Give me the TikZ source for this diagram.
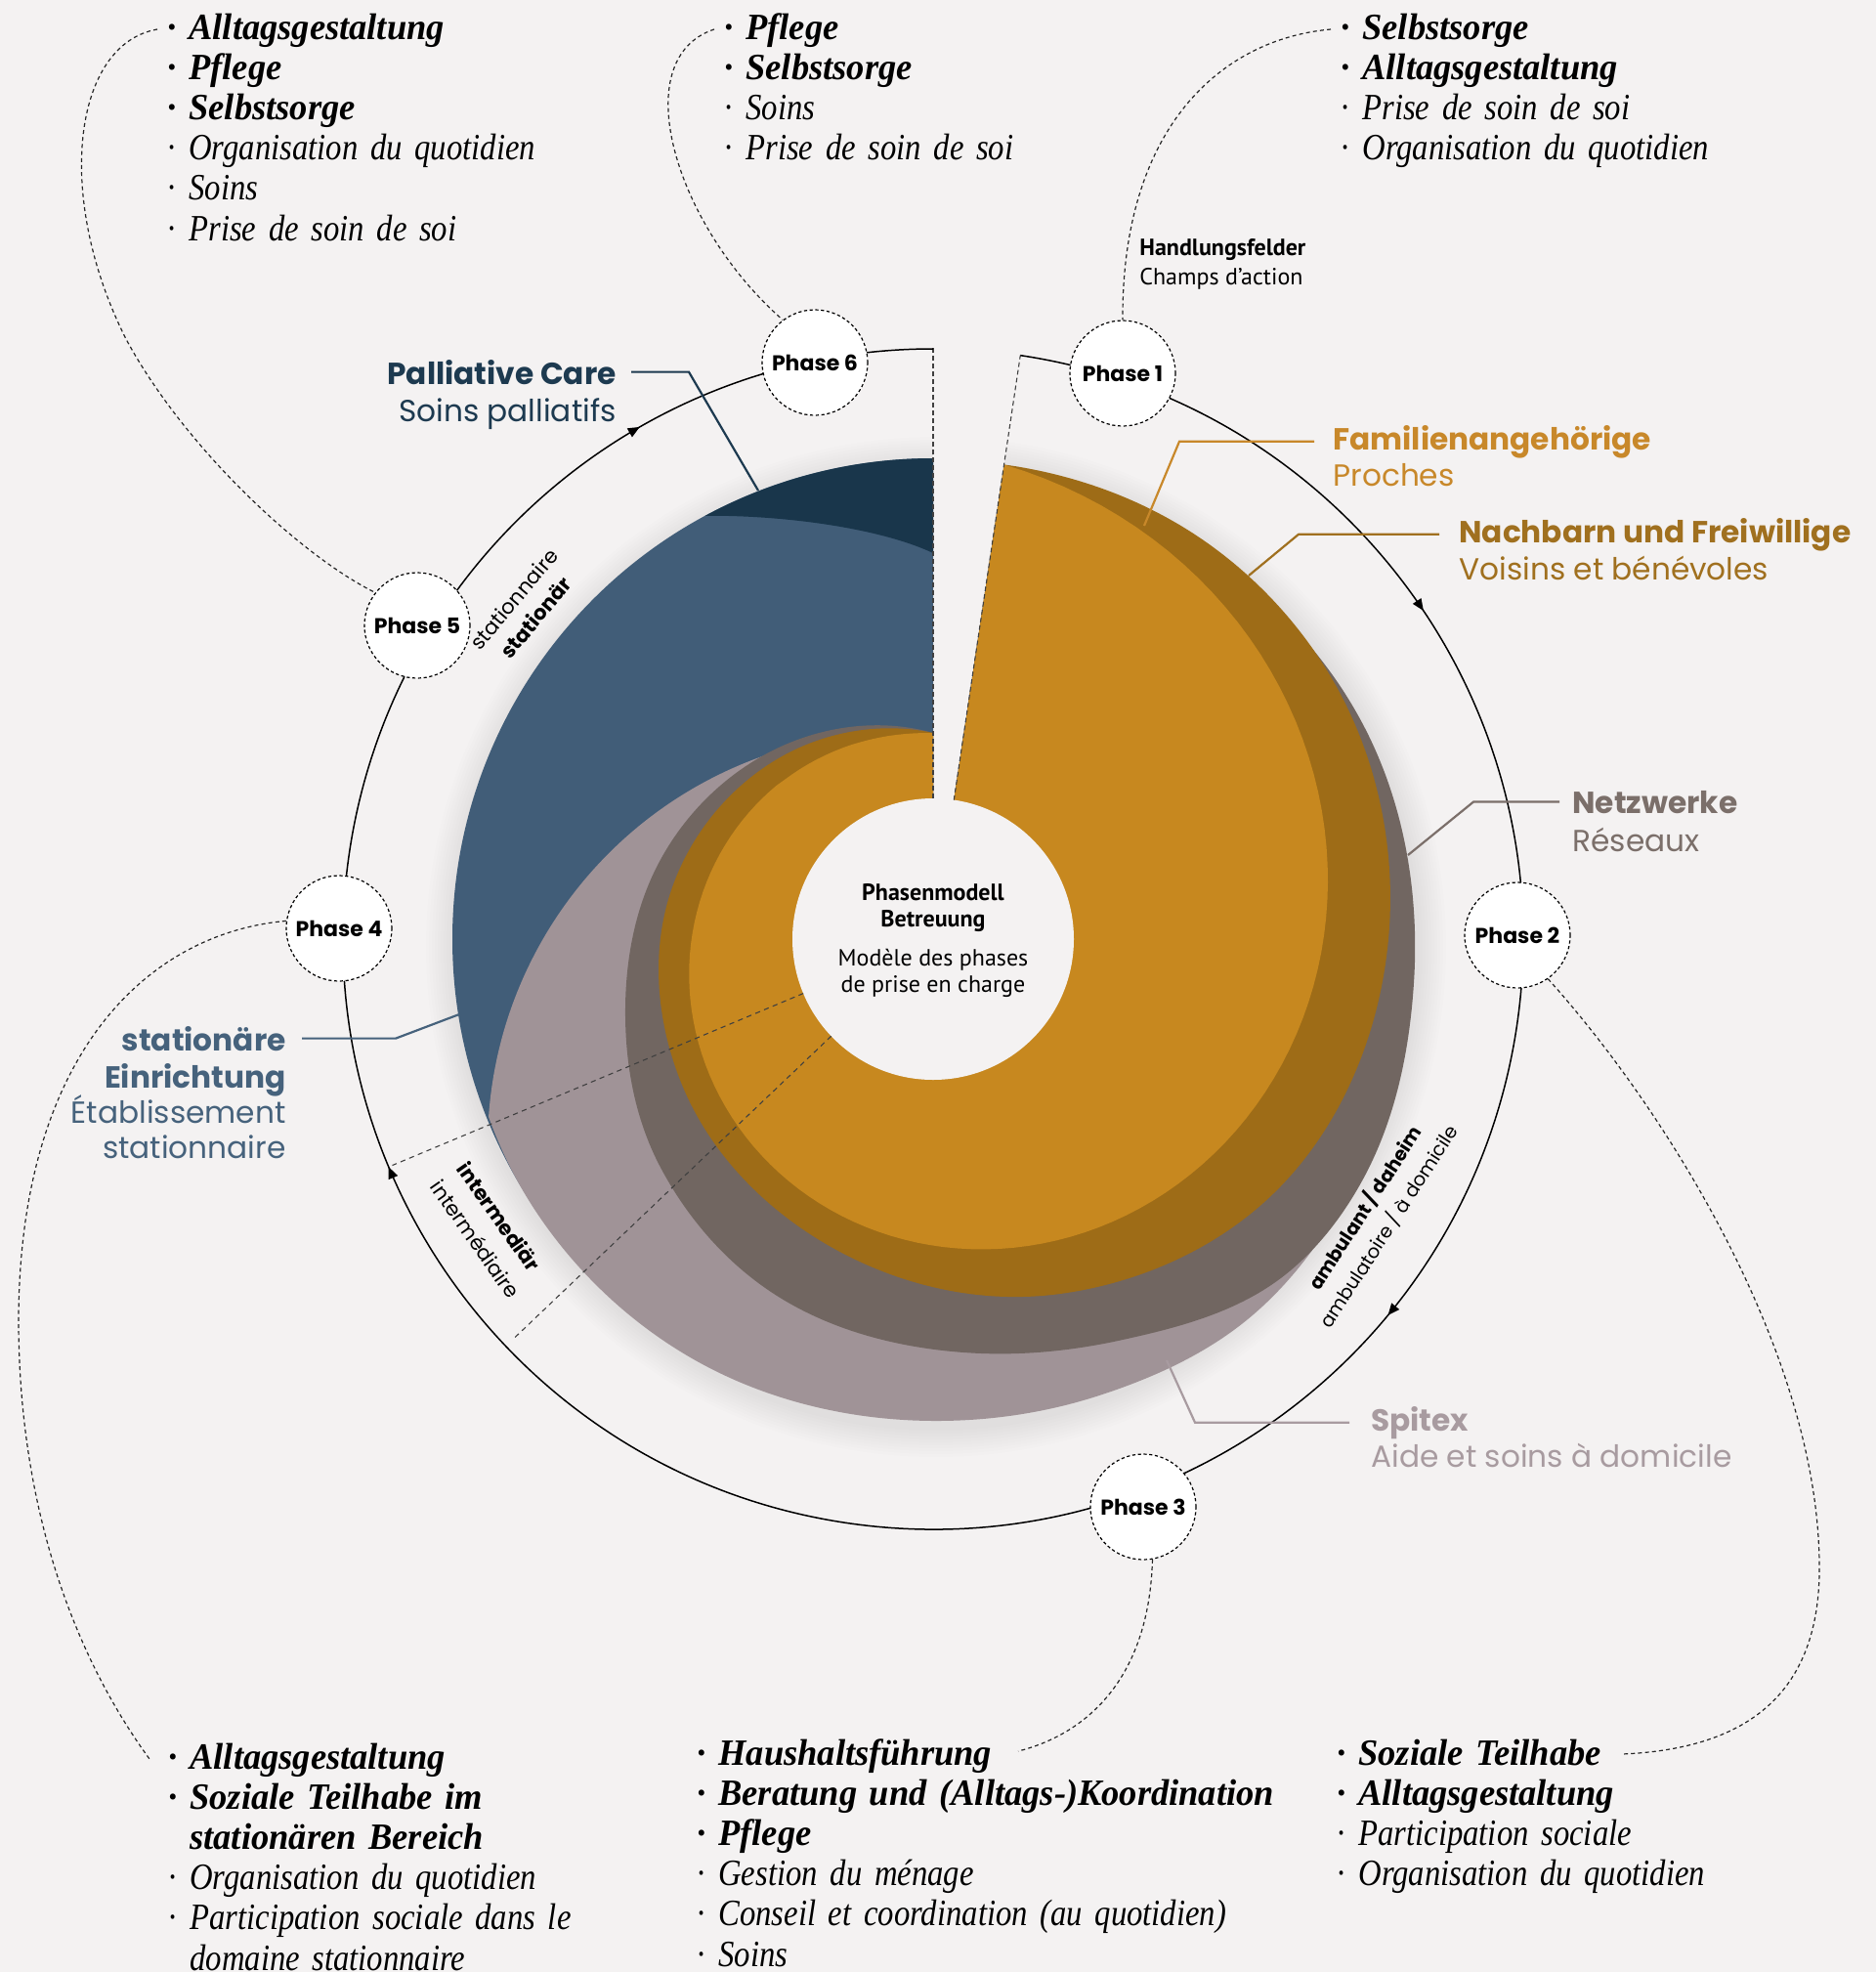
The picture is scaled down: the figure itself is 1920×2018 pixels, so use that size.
\documentclass[tikz,border=0pt]{standalone}
\usepackage{fontspec}
\setmainfont{Liberation Serif}
\newfontfamily\pop{Poppins}
\newfontfamily\pts{PT Sans}
\newfontfamily\serbi[FakeStretch=0.96]{Liberation Serif}
\newfontfamily\serit[FakeStretch=0.86]{Liberation Serif}
\usetikzlibrary{arrows.meta,decorations.markings}
\definecolor{bg}{HTML}{F4F2F2}
\definecolor{navy}{HTML}{19364B}
\definecolor{steel}{HTML}{415D78}
\definecolor{mauve}{HTML}{A09397}
\definecolor{taupe}{HTML}{716661}
\definecolor{ochre}{HTML}{9E6C17}
\definecolor{gold}{HTML}{C7881F}
\definecolor{navytxt}{HTML}{1D3A50}
\definecolor{steeltxt}{HTML}{46627C}
\definecolor{goldtxt}{HTML}{C8882A}
\definecolor{ochretxt}{HTML}{A0701F}
\definecolor{taupetxt}{HTML}{7B6F6A}
\definecolor{mauvetxt}{HTML}{A89BA0}
\newcommand\bB{\serbi\bfseries\itshape}
\newcommand\bI{\serit\itshape}
\newcommand\bul{\makebox[11pt][l]{·}}
\newcommand\ind{\hspace*{11pt}}
% Hermite spiral segment: phi0 r0 slope0 phi1 r1 slope1 (phi clockwise from top, degrees)
\newcommand\hs[6]{ .. controls ({(#2+(#4-#1)/3*(#3))*cos(#1-90) - #2*((#4-#1)*pi/540)*sin(#1-90)},{(#2+(#4-#1)/3*(#3))*sin(#1-90) + #2*((#4-#1)*pi/540)*cos(#1-90)}) and ({(#5-(#4-#1)/3*(#6))*cos(#4-90) + #5*((#4-#1)*pi/540)*sin(#4-90)},{(#5-(#4-#1)/3*(#6))*sin(#4-90) - #5*((#4-#1)*pi/540)*cos(#4-90)}) .. ({#4-90}:{#5})}
\tikzset{
 lst/.style={anchor=base west, inner sep=0pt, text width=340pt, align=left, font=\fontsize{19}{20.6}\selectfont, text=black},
 lblb/.style={inner sep=0pt, font=\pop\bfseries\fontsize{15.6}{19}\selectfont},
 lblr/.style={inner sep=0pt, font=\pop\fontsize{15.6}{19}\selectfont},
 phase/.style={circle, fill=white, draw=black, line width=0.6pt, dash pattern=on 1.6pt off 1.3pt, minimum size=54pt, inner sep=0pt, font=\pop\bfseries\fontsize{11}{13}\selectfont},
 rotb/.style={inner sep=0pt, font=\pop\bfseries\fontsize{10.5}{12}\selectfont},
 rotr/.style={inner sep=0pt, font=\pop\fontsize{10.5}{12}\selectfont},
 ctb/.style={inner sep=0pt, align=center, font=\pts\bfseries\fontsize{12}{13.5}\selectfont},
 ctr/.style={inner sep=0pt, align=center, font=\pts\fontsize{12}{13.5}\selectfont},
 hfb/.style={inner sep=0pt, anchor=base west, font=\pts\bfseries\fontsize{12}{13.5}\selectfont},
 hfr/.style={inner sep=0pt, anchor=base west, font=\pts\fontsize{12}{13.5}\selectfont},
 conn/.style={draw=black!85, line width=0.6pt, dash pattern=on 2pt off 1.6pt},
 lead/.style={line width=1.1pt},
 gapdash/.style={draw=black!75, line width=0.55pt, dash pattern=on 2.4pt off 1.6pt},
 raddash/.style={draw=black!75, line width=0.55pt, dash pattern=on 2.6pt off 2.2pt},
 ring/.style={draw=black, line width=0.75pt},
}
\begin{document}
\begin{tikzpicture}[x=0.5pt,y=-0.5pt]
\useasboundingbox (0,0) rectangle (1920,2018);
\fill[bg] (0,0) rectangle (1920,2018);
\coordinate (C) at (955,961);
\begin{scope}[shift={(955,961)}]
 % soft shadow
 \begin{scope}
  \clip (0,0) -- (-81.5:900) -- (-45:900) -- (0:900) -- (45:900) -- (90:900) -- (135:900) -- (180:900) -- (225:900) -- (270:900) -- cycle;
  \foreach \k in {1,...,10} \fill[black, opacity=0.008] (3,8) circle[radius=492+3*\k];
 \end{scope}
 % stationary (blue) and palliative (navy)
 \fill[steel] (270:492) arc[start angle=270, end angle=90, radius=492] -- cycle;
 \fill[navy] (270:492) arc[start angle=270, end angle=241.7, radius=492] .. controls (-155,-434) and (-55,-421) .. (0,-395) -- cycle;
 % Spitex
 \fill[mauve] (-81.5:440) \hs{8.5}{440}{0.39}{60}{460}{0.5} \hs{60}{460}{0.5}{100}{484}{0.5} \hs{100}{484}{0.5}{120}{497}{0.5} \hs{120}{497}{0.5}{140}{505}{0.0} \hs{140}{505}{0.0}{160}{497}{-0.3} \hs{160}{497}{-0.3}{180}{493}{-0.05} \hs{180}{493}{-0.05}{210}{495}{0} \hs{210}{495}{0}{235}{493}{-0.13} \hs{235}{493}{-0.13}{248.2}{490}{-0.3}
   arc[start angle=184, end angle=274.3, radius=423] -- (0,0) -- cycle;
 % Netzwerke
 \fill[taupe] (-81.5:466) \hs{8.5}{466}{0.55}{40}{484}{0.4} \hs{40}{484}{0.4}{65}{492}{0.15} \hs{65}{492}{0.15}{95}{494}{0.22} \hs{95}{494}{0.22}{120}{504}{0.05} \hs{120}{504}{0.05}{135}{496}{-1.46} \hs{135}{496}{-1.46}{155}{453}{-1.78} \hs{155}{453}{-1.78}{175}{425}{-1.12} \hs{175}{425}{-1.12}{205}{397}{-1.11} \hs{205}{397}{-1.11}{230}{364}{-1.35} \hs{230}{364}{-1.35}{258}{322}{-1.3} \hs{258}{322}{-1.3}{285}{292}{-1.11} \hs{285}{292}{-1.11}{320}{253}{-1.08} \hs{320}{253}{-1.08}{360}{211}{-1.05}
   -- (0,0) -- cycle;
 % Nachbarn
 \fill[ochre] (-81.5:491) \hs{8.5}{491}{0.1}{35}{493}{-0.1} \hs{35}{493}{-0.1}{60}{486}{-0.49} \hs{60}{486}{-0.49}{90}{466}{-0.754} \hs{90}{466}{-0.754}{125}{437}{-1.143} \hs{125}{437}{-1.143}{160}{386}{-1.427} \hs{160}{386}{-1.427}{200}{330}{-1.11} \hs{200}{330}{-1.11}{240}{297}{-0.71} \hs{240}{297}{-0.71}{280}{273}{-0.675} \hs{280}{273}{-0.675}{320}{243}{-0.775} \hs{320}{243}{-0.775}{360}{211}{-0.8}
   -- (0,0) -- cycle;
 % Familie
 \fill[gold] plot[domain=8.5:360, samples=140, variable=\p] ({\p-90}:{211+280*((360-\p)/351.5)^1.5}) -- (0,0) -- cycle;
 % centre
 \fill[bg] (0,0) circle[radius=144];
 \draw[gapdash] (270:144) -- (270:605);
 \draw[gapdash] (-81.5:144) -- (-81.5:604);
 \draw[raddash] (157.3:144) -- (157.3:600);
 \draw[raddash] (136.4:144) -- (136.4:595);
 \draw[ring, postaction={decorate}, decoration={markings,
   mark=at position 0.1357 with {\arrow{Triangle[length=6pt,width=5pt]}},
   mark=at position 0.3445 with {\arrow{Triangle[length=6pt,width=5pt]}},
   mark=at position 0.6794 with {\arrow{Triangle[length=6pt,width=5pt]}},
   mark=at position 0.9152 with {\arrow{Triangle[length=6pt,width=5pt]}}}]
   (-81.5:604) arc[start angle=-81.5, end angle=270, radius=604];
\end{scope}

% centre text
\node[ctb] (cm1) at (955,929) {Phasenmodell\\Betreuung};
\node[ctr] (cm2) at (955,996) {Modèle des phases\\de prise en charge};

% phases
\node[phase] (p1) at (1149,382) {Phase 1};
\node[phase] (p2) at (1553,957) {Phase 2};
\node[phase] (p3) at (1170,1542) {Phase 3};
\node[phase] (p4) at (347,950) {Phase 4};
\node[phase] (p5) at (427,640) {Phase 5};
\node[phase] (p6) at (834,371) {Phase 6};

% Handlungsfelder
\node[hfb] (hf1) at (1166,261) {Handlungsfelder};
\node[hfr] (hf2) at (1166,291) {Champs d’action};

% rotated setting labels
\node[rotr, rotate=50] (sr1) at (526,613) {stationnaire};
\node[rotb, rotate=50] (sr2) at (548,632) {stationär};
\node[rotb, rotate=-55] (ir1) at (511,1245) {intermediär};
\node[rotr, rotate=-55] (ir2) at (487,1268) {intermédiaire};
\node[rotb, rotate=57, font=\pop\bfseries\fontsize{9.7}{11}\selectfont] (ar1) at (1397,1236) {ambulant / daheim};
\node[rotr, rotate=57, font=\pop\fontsize{9.7}{11}\selectfont] (ar2) at (1421,1255) {ambulatoire / à domicile};

% coloured labels
\node[lblb, text=navytxt, anchor=base east] (pc1) at (631,393) {Palliative Care};
\node[lblr, text=navytxt, anchor=base east] (pc2) at (631,431) {Soins palliatifs};
\node[lblb, text=goldtxt, anchor=base west] (fa1) at (1364,460) {Familienangehörige};
\node[lblr, text=goldtxt, anchor=base west] (fa2) at (1364,497) {Proches};
\node[lblb, text=ochretxt, anchor=base west] (nb1) at (1493,555) {Nachbarn und Freiwillige};
\node[lblr, text=ochretxt, anchor=base west] (nb2) at (1493,593) {Voisins et bénévoles};
\node[lblb, text=taupetxt, anchor=base west] (nw1) at (1609,832) {Netzwerke};
\node[lblr, text=taupetxt, anchor=base west] (nw2) at (1609,871) {Réseaux};
\node[lblb, text=mauvetxt, anchor=base west] (sp1) at (1403,1464) {Spitex};
\node[lblr, text=mauvetxt, anchor=base west] (sp2) at (1403,1501) {Aide et soins à domicile};
\node[lblb, text=steeltxt, anchor=base east] (st1) at (293,1075) {stationäre};
\node[lblb, text=steeltxt, anchor=base east] (st2) at (293,1113) {Einrichtung};
\node[lblr, text=steeltxt, anchor=base east] (st3) at (293,1149) {Établissement};
\node[lblr, text=steeltxt, anchor=base east] (st4) at (293,1185) {stationnaire};

% leader end points on shapes
\coordinate (palEnd) at (776,502);
\coordinate (famEnd) at (1171,538);
\coordinate (nbEnd) at (1278,589);
\coordinate (nwEnd) at (1441,875);
\coordinate (spEnd) at (1194,1392);
\coordinate (stEnd) at (470,1038);
\draw[lead, navytxt] ([xshift=7.5pt]pc1.east) -- ++(59,0) -- (palEnd);
\draw[lead, goldtxt] ([xshift=-9.5pt]fa1.west) -- ++(-138,0) -- (famEnd);
\draw[lead, ochretxt] ([xshift=-10pt]nb1.west) -- ++(-144,0) -- (nbEnd);
\draw[lead, taupetxt] ([xshift=-6.5pt]nw1.west) -- ++(-88,0) -- (nwEnd);
\draw[lead, mauvetxt] ([xshift=-11pt]sp1.west) -- ++(-158,0) -- (spEnd);
\draw[lead, steeltxt] ([xshift=8pt]st1.east) -- ++(96,0) -- (stEnd);

% lists
\node[lst] (la) at (171,40) {%
{\bB\bul Alltagsgestaltung}\\
{\bB\bul Pflege}\\
{\bB\bul Selbstsorge}\\
{\bI\bul Organisation du quotidien}\\
{\bI\bul Soins}\\
{\bI\bul Prise de soin de soi}};
\node[lst] (lb) at (741,40) {%
{\bB\bul Pflege}\\
{\bB\bul Selbstsorge}\\
{\bI\bul Soins}\\
{\bI\bul Prise de soin de soi}};
\node[lst] (lc) at (1372,40) {%
{\bB\bul Selbstsorge}\\
{\bB\bul Alltagsgestaltung}\\
{\bI\bul Prise de soin de soi}\\
{\bI\bul Organisation du quotidien}};
\node[lst] (ld) at (172,1810) {%
{\bB\bul Alltagsgestaltung}\\
{\bB\bul Soziale Teilhabe im}\\
{\bB\ind stationären Bereich}\\
{\bI\bul Organisation du quotidien}\\
{\bI\bul Participation sociale dans le}\\
{\bI\ind domaine stationnaire}};
\node[lst] (le) at (713,1806) {%
{\bB\bul Haushaltsführung}\\
{\bB\bul Beratung und (Alltags-)Koordination}\\
{\bB\bul Pflege}\\
{\bI\bul Gestion du ménage}\\
{\bI\bul Conseil et coordination (au quotidien)}\\
{\bI\bul Soins}};
\node[lst] (lf) at (1368,1806) {%
{\bB\bul Soziale Teilhabe}\\
{\bB\bul Alltagsgestaltung}\\
{\bI\bul Participation sociale}\\
{\bI\bul Organisation du quotidien}};

% connectors lists <-> phases
\coordinate (aS) at (161,30);
\coordinate (bS) at (731,30);
\coordinate (cS) at (1362,30);
\coordinate (dE) at (153,1800);
\coordinate (eE) at (1042,1792);
\coordinate (fE) at (1660,1795);
\draw[conn] (aS) .. controls (75,45) and (55,200) .. (129,347) .. controls (190,460) and (310,570) .. (p5.142);
\draw[conn] (bS) .. controls (640,60) and (690,230) .. (p6.127);
\draw[conn] (cS) .. controls (1250,40) and (1148,130) .. (p1.north);
\draw[conn] (p4.172) .. controls (150,955) and (20,1080) .. (19,1350) .. controls (19,1550) and (80,1700) .. (dE);
\draw[conn] (p3.-80) .. controls (1176,1720) and (1110,1775) .. (eE);
\draw[conn] (p2.-55) .. controls (1700,1130) and (1860,1380) .. (1862,1600) .. controls (1864,1740) and (1780,1790) .. (fE);
\end{tikzpicture}
\end{document}
